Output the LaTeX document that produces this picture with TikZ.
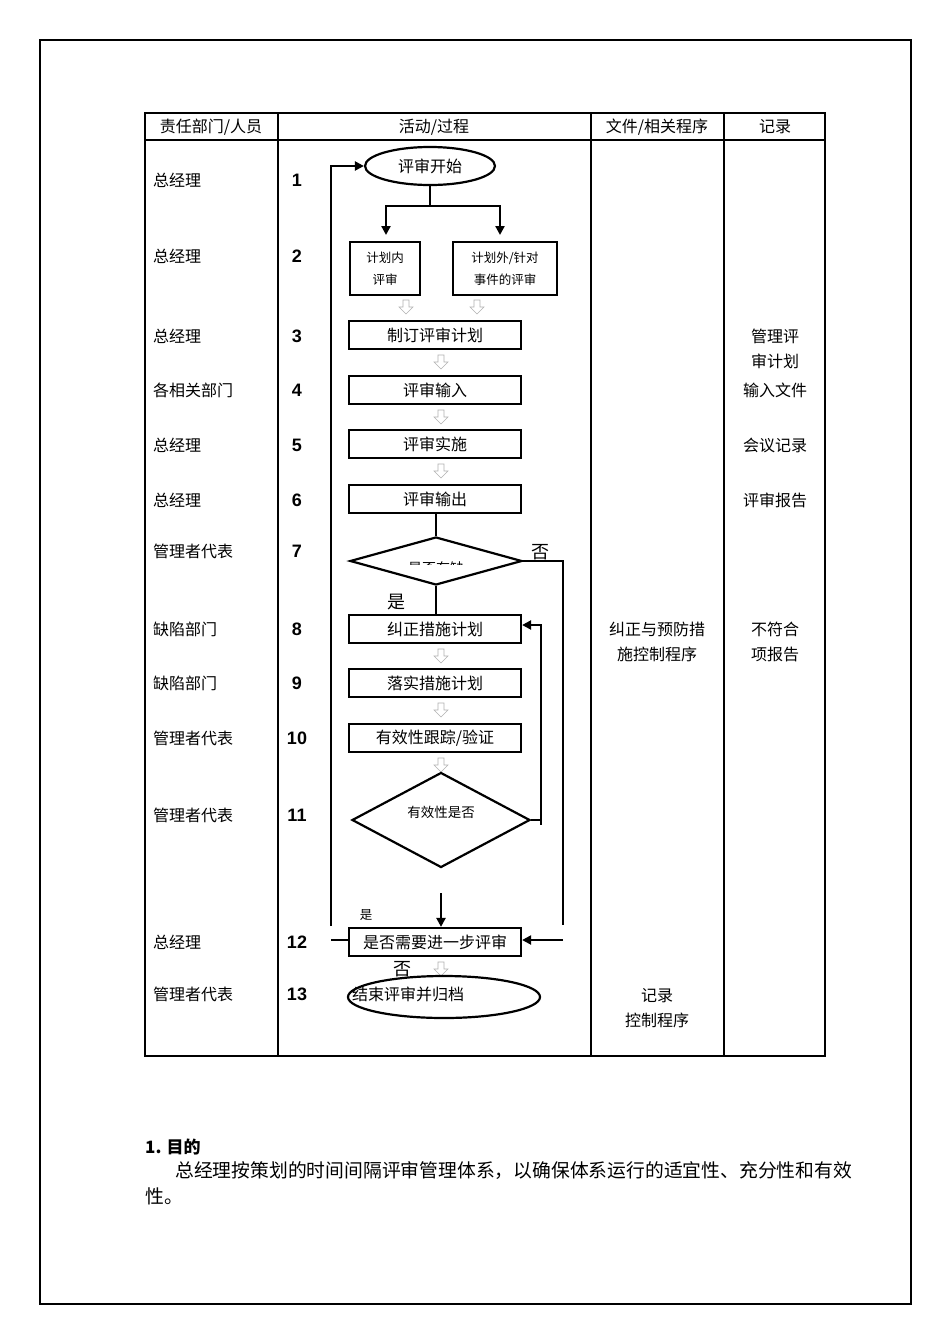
\documentclass[tikz,border=0pt]{standalone}
\usepackage{fontspec}
\newfontfamily\cjk{Noto Sans CJK SC}
\newfontfamily\num{Liberation Sans}
\usetikzlibrary{shapes.geometric,arrows.meta}
\begin{document}
\begin{tikzpicture}[x=1pt,y=-1pt,
  lbl/.style={font=\cjk\fontsize{16}{19}\selectfont,inner sep=0},
  small/.style={font=\cjk\fontsize{12.5}{22}\selectfont,inner sep=0,align=center},
  nm/.style={font=\num\bfseries\fontsize{18}{20}\selectfont,inner sep=0},
  box/.style={draw,line width=2.2pt,minimum width=172pt,minimum height=28pt,inner sep=0,font=\cjk\fontsize{16}{19}\selectfont},
  ln/.style={line width=2.2pt},
  arr/.style={line width=2.2pt,-{Triangle[length=9pt,width=9pt]}},
  hollow/.pic={\draw[gray!60,line width=0.6pt] (-3,0)--(3,0)--(3,7)--(7,7)--(0,14)--(-7,7)--(-3,7)--cycle;}]
\useasboundingbox (0,0) rectangle (950,1344);
\fill[white] (0,0) rectangle (950,1344);
\draw[line width=2.2pt] (40,40) rectangle (911,1304);
% table
\draw[line width=2.2pt] (145,113) rectangle (825,1056);
\draw[line width=1.4pt] (145,140)--(825,140);
\foreach \x in {278,591,724} \draw[line width=2.2pt] (\x,113)--(\x,1056);
\node[lbl] (h1) at (211,127) {责任部门/人员};
\node[lbl] (h2) at (434,127) {活动/过程};
\node[lbl] (h3) at (657,127) {文件/相关程序};
\node[lbl] (h4) at (775,127) {记录};
% col1 and numbers
\foreach \y/\t/\n [count=\i] in {180/总经理/1,256/总经理/2,336/总经理/3,390/各相关部门/4,445/总经理/5,500/总经理/6,551/管理者代表/7,629/缺陷部门/8,683/缺陷部门/9,738/管理者代表/10,815/管理者代表/11,942/总经理/12,994/管理者代表/13}{
  \node[lbl,anchor=west] (r\i) at (153,\y) {\t};
  \node[nm] (n\i) at (297,\y) {\n};}
% flow
\node[draw,ellipse,line width=2.2pt,minimum width=130pt,minimum height=38pt,inner sep=0,font=\cjk\fontsize{16}{19}\selectfont] (s) at (430,166) {评审开始};
\node[draw,line width=2.2pt,minimum width=70pt,minimum height=53pt,small] (b2a) at (385,268.5) {计划内\\评审};
\node[draw,line width=2.2pt,minimum width=104pt,minimum height=53pt,small] (b2b) at (505,268.5) {计划外/针对\\事件的评审};
\coordinate (j) at (430,206);
\draw[ln] (s.south)--(j);
\draw[ln] (386,206)--(500,206);
\draw[arr] (386,205)--(386,235);
\draw[arr] (500,205)--(500,235);
\pic at (406,300) {hollow};
\pic at (477,300) {hollow};
\node[box] (b3) at (435,335) {制订评审计划};
\node[box] (b4) at (435,390) {评审输入};
\node[box] (b5) at (435,444) {评审实施};
\node[box] (b6) at (435,499) {评审输出};
\foreach \y in {355,410,464} \pic at (441,\y) {hollow};
\node[draw,diamond,line width=2.2pt,minimum width=172pt,minimum height=48pt,inner sep=0,aspect=3.6] (d7) at (436,561) {};
\begin{scope}\clip (350,537) rectangle (522,564);
\node[lbl,font=\cjk\fontsize{14}{16}\selectfont] at (436,568) {是否有缺};
\end{scope}
\draw[ln] (d7.north|-b6.south)--(d7.north);
\node[lbl,font=\cjk\fontsize{18}{20}\selectfont] (no7) at (540,552) {否};
\node[lbl,font=\cjk\fontsize{18}{20}\selectfont] (yes7) at (396,602) {是};
\node[box] (b8) at (435,629) {纠正措施计划};
\node[box] (b9) at (435,683) {落实措施计划};
\node[box] (b10) at (435,738) {有效性跟踪/验证};
\draw[ln] (d7.south)--(436,615);
\foreach \y in {649,703,758} \pic at (441,\y) {hollow};
\node[draw,diamond,line width=2.2pt,minimum width=178pt,minimum height=95pt,inner sep=0,aspect=1.87] (d11) at (441,820) {};
\node[lbl,font=\cjk\fontsize{13.5}{15}\selectfont] (t11) at (441,812) {有效性是否};
\node[box] (b12) at (435,942) {是否需要进一步评审};
\coordinate (a11) at (441,893);
\draw[arr] (a11)--(b12.north-|a11);
\node[lbl,font=\cjk\fontsize{12.5}{14}\selectfont] (yes11) at (366,915) {是};
\draw[ln] (d11.east)--(541,820)--(541,825);
\draw[arr] (541,820)--(541,625)--(b8.east|-0,625);
\draw[ln] (d7.east)--(563,561)--(563,925);
\draw[arr] (563,940)--(b12.east|-0,940);
\draw[ln] (b12.west|-0,940)--(331,940);
\draw[arr] (331,926)--(331,166)--(s.west);
\node[lbl,font=\cjk\fontsize{18}{20}\selectfont] (no12) at (402,969) {否};
\pic at (441,962) {hollow};
\node[draw,ellipse,line width=2.2pt,minimum width=192pt,minimum height=42pt,inner sep=0] (e) at (444,997) {};
\node[lbl,anchor=west] (te) at (352,994) {结束评审并归档};
% col3/4
\node[lbl,align=center,font=\cjk\fontsize{16}{25}\selectfont] (c3a) at (657,642) {纠正与预防措\\施控制程序};
\node[lbl,align=center,font=\cjk\fontsize{16}{25}\selectfont] (c3b) at (657,1008) {记录\\控制程序};
\node[lbl,align=center,font=\cjk\fontsize{16}{25}\selectfont] (c4a) at (775,349) {管理评\\审计划};
\node[lbl] (c4b) at (775,390) {输入文件};
\node[lbl] (c4c) at (775,445) {会议记录};
\node[lbl] (c4d) at (775,500) {评审报告};
\node[lbl,align=center,font=\cjk\fontsize{16}{25}\selectfont] (c4e) at (775,642) {不符合\\项报告};
% bottom text
\node[lbl,anchor=west,font=\cjk\bfseries\fontsize{17}{19}\selectfont] (p0) at (145,1147) {1. 目的};
\node[lbl,anchor=west,font=\cjk\fontsize{18.8}{22}\selectfont] (p1) at (175,1171) {总经理按策划的时间间隔评审管理体系，以确保体系运行的适宜性、充分性和有效};
\node[lbl,anchor=west,font=\cjk\fontsize{18.8}{22}\selectfont] (p2) at (145,1196) {性。};
\end{tikzpicture}
\end{document}
